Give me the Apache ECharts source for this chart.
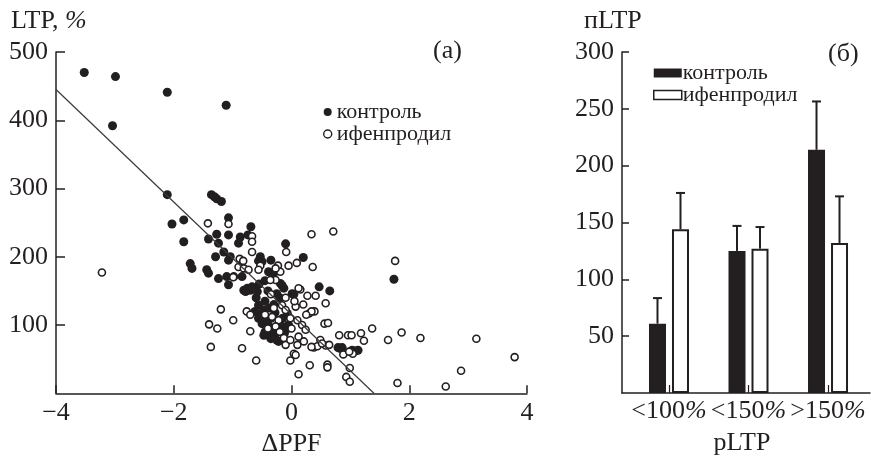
<!DOCTYPE html>
<html>
<head>
<meta charset="utf-8">
<script src="https://cdn.jsdelivr.net/npm/echarts@6/dist/echarts.min.js"></script>
<style>
html,body{margin:0;padding:0;background:#fff;}
#chart{width:871px;height:456px;}
</style>
</head>
<body>
<div id="chart"></div>
<script>
// ---- Panel (а): LTP vs ΔPPF ----
const controlPoints = [
  [-3.52,470],[-2.99,464],[-3.04,392],[-2.11,441],[-1.11,422],
  [-2.11,291],[-1.36,291],[-1.31,288],[-1.27,285],[-1.19,281],
  [-1.07,257],[-2.03,248],[-1.83,254],[-1.83,222],
  [-1.41,226],[-1.27,233],[-1.24,220],[-1.07,232],[-0.87,229],[-0.9,220],[-0.74,232],[-0.69,244],
  [-1.72,190],[-1.69,183],[-1.44,181],[-1.41,176],[-1.29,200],[-1.15,207],[-1.07,195],[-1.04,200],
  [-1.24,168],[-1.07,159],[-1.1,171],[-0.98,171],[-0.84,171],[-0.81,151],[-0.78,149],[-0.7,151],
  [-0.53,200],[-0.56,194],[-0.35,195],[-0.5,193],[-0.39,178],[-0.1,219],[0.2,199],
  [-0.75,154],[-0.67,156],[-0.58,149],[-0.19,161],[-0.13,154],[-0.16,158],[0.01,146],[0.04,145],
  [0.47,156],[0.65,150],[-0.3,176],
  [-0.56,129],[-0.47,122],[-0.56,110],[-0.5,102],[-0.47,85],[-0.39,85],[-0.3,83],[-0.22,76],
  [-0.07,117],[-0.16,98],[-0.07,95],
  [-0.45,90],[-0.35,80],[-0.25,78],[-0.4,100],[-0.6,140],[-0.45,135],[-0.3,130],[-0.2,140],[-0.35,110],
  [-0.55,160],[-0.4,150],[-0.25,146],[-0.45,165],[-0.5,117],[-0.38,125],[-0.28,118],[-0.2,102],
  [-0.12,88],[-0.32,93],[-0.15,110],[-0.05,100],[-0.62,120],[-0.42,108],
  [0.79,67],[0.86,67],[0.82,66],[1.03,63],[1.13,63],[1.08,62],
  [1.74,167]
];
const ifenprodilPoints = [
  [-3.22,177],[-1.42,249],[-1.07,248],[-0.67,230],[-0.67,222],[-0.67,207],[-0.09,207],[0.34,233],[0.71,237],
  [-0.88,197],[-0.82,194],[-0.9,185],[-0.81,183],[-0.73,181],[-0.99,170],
  [-0.53,187],[-0.23,187],[-0.19,178],[-0.05,187],[0.09,191],[0.36,185],[-0.27,183],
  [-0.56,181],[-0.27,166],[-0.36,166],
  [0.15,152],[0.27,143],[0.41,143],[0.12,154],
  [1.76,194],
  [0.58,132],[0.3,117],[0.39,120],[0.56,102],[0.62,103],[1.37,95],[1.18,88],[1.23,77],
  [0.81,85],[0.96,85],[1.02,85],[1.64,78],[1.87,89],[2.19,81],[3.14,80],[3.79,53],[2.88,33],[2.62,10],[1.8,15],
  [0.88,57],[1.04,58],[0.99,37],[0.93,24],[0.99,17],[0.61,42],[0.61,38],[0.31,41],[0.49,78],[0.58,70],
  [0.38,67],[0.44,69],[0.64,71],[0.34,68],
  [-1.2,123],[-1.4,101],[-1.26,95],[-0.99,107],[-1.37,68],[-0.84,66],[-0.6,48],[-0.7,91],[-0.76,120],[-0.7,115],
  [-0.02,48],[0.12,28],[0.04,58],[0.07,56],
  [0.07,127],[-0.3,125],[-0.16,129],[-0.1,122],[-0.33,112],[-0.22,107],[-0.02,110],[0.1,107],[-0.27,98],
  [0.18,100],[0.24,93],[0.34,120],
  [-0.1,71],[-0.13,81],[-0.02,78],[0.12,83],[0.21,76],[0.1,71],[0.52,73],[0.98,61],
  [-0.45,115],[-0.4,95],[-0.2,90],[0.0,95],[-0.1,140],[0.05,135],[0.2,130],[-0.35,145],[0.25,115]
];
const fitLineX = [-4, 1.4];
const fitLineY = [445, 0];

// ---- Panel (б): пLTP by pLTP group ----
const groups = ['<100%', '<150%', '>150%'];
const groupPos = [1, 2, 3];
const controlMean = [61, 125, 214];
const controlSem  = [22.5, 22, 42.5];
const ifenMean    = [144, 127, 132];
const ifenSem     = [32, 19, 41];

const FONT = '"Liberation Serif","Times New Roman",serif';
const INK = '#231f20';
const AX_FS = 26;
const LG_FS = 22;
const BAR_W = 17, BAR_GAP = 6;
const HALF = (BAR_W + BAR_GAP) / 2;
const italicRich = { i: { fontStyle: 'italic', fontFamily: FONT, fontSize: AX_FS, color: INK } };

const chart = echarts.init(document.getElementById('chart'));

function errSeries(name, mean, sem, offset) {
  return {
    type: 'custom', name: name, xAxisIndex: 1, yAxisIndex: 1, z: 5,
    data: groupPos.map((p, i) => [p, mean[i], mean[i] + sem[i]]),
    encode: { x: 0, y: [1, 2] },
    renderItem: function (params, api) {
      const a = api.coord([api.value(0), api.value(1)]);
      const b = api.coord([api.value(0), api.value(2)]);
      const cx = a[0] + offset;
      const st = { stroke: INK, lineWidth: 2 };
      return { type: 'group', children: [
        { type: 'line', shape: { x1: cx, y1: a[1], x2: cx, y2: b[1] }, style: st },
        { type: 'line', shape: { x1: cx - 4.5, y1: b[1], x2: cx + 4.5, y2: b[1] }, style: st }
      ]};
    }
  };
}

const option = {
  animation: false,
  backgroundColor: '#fff',
  textStyle: { fontFamily: FONT, color: INK },
  grid: [
    { left: 56, top: 52, width: 471, height: 341.3, outerBoundsMode: 'none', containLabel: false },
    { left: 622, top: 52, width: 248, height: 341, outerBoundsMode: 'none', containLabel: false }
  ],
  xAxis: [
    {
      gridIndex: 0, type: 'value', min: -4, max: 4, interval: 2,
      name: 'ΔPPF', nameLocation: 'middle', nameGap: 33,
      nameTextStyle: { fontFamily: FONT, fontSize: AX_FS, color: INK },
      axisLine: { onZero: false, lineStyle: { color: INK, width: 1.5 } },
      axisTick: { inside: true, length: 8, lineStyle: { color: INK, width: 1.5 } },
      axisLabel: { margin: 7, fontFamily: FONT, fontSize: AX_FS, color: INK,
        formatter: v => (v < 0 ? '\u2212' + Math.abs(v) : String(v)) },
      splitLine: { show: false }
    },
    {
      gridIndex: 1, type: 'value', min: 0.409, max: 3.528,
      name: 'pLTP', nameLocation: 'middle', nameGap: 37,
      nameTextStyle: { fontFamily: FONT, fontSize: AX_FS, color: INK, padding: [0, 8, 0, 0] },
      axisLine: { onZero: false, lineStyle: { color: INK, width: 1.5 } },
      axisTick: { inside: true, length: 8, customValues: groupPos, lineStyle: { color: INK, width: 1.2 } },
      axisLabel: { margin: 5, fontFamily: FONT, fontSize: AX_FS, color: INK, customValues: groupPos,
        rich: italicRich,
        formatter: v => {
          const g = groups[Math.round(v) - 1] || '';
          return g.replace('%', '{i|%}');
        } },
      splitLine: { show: false }
    }
  ],
  yAxis: [
    {
      gridIndex: 0, type: 'value', min: 0, max: 500, interval: 100,
      axisLine: { show: true, onZero: false, lineStyle: { color: INK, width: 1.5 } },
      axisTick: { show: true, inside: true, length: 9, lineStyle: { color: INK, width: 1.5 } },
      axisLabel: { margin: 8, fontFamily: FONT, fontSize: AX_FS, color: INK, showMinLabel: false },
      splitLine: { show: false }
    },
    {
      gridIndex: 1, type: 'value', min: 0, max: 300, interval: 50,
      axisLine: { show: true, onZero: false, lineStyle: { color: INK, width: 1.5 } },
      axisTick: { show: true, inside: true, length: 7, lineStyle: { color: INK, width: 1.5 } },
      axisLabel: { margin: 8, fontFamily: FONT, fontSize: AX_FS, color: INK, showMinLabel: false },
      splitLine: { show: false }
    }
  ],
  legend: [
    {
      left: 318, top: 96, orient: 'vertical', selectedMode: false,
      itemWidth: 8, itemHeight: 8, itemGap: 0,
      textStyle: { fontFamily: FONT, fontSize: LG_FS, color: INK, lineHeight: 18 },
      data: [
        { name: 'контроль', icon: 'circle', itemStyle: { color: INK, borderWidth: 0 } },
        { name: 'ифенпродил', icon: 'circle', itemStyle: { color: '#fff', borderColor: INK, borderWidth: 1.4 } }
      ]
    },
    {
      left: 648, top: 57, orient: 'vertical', selectedMode: false,
      itemWidth: 28, itemHeight: 9, itemGap: 0,
      textStyle: { fontFamily: FONT, fontSize: LG_FS, color: INK, lineHeight: 17, padding: [0, 0, 0, -4] },
      data: [
        { name: 'контроль', icon: 'rect', itemStyle: { color: INK, borderWidth: 0 } },
        { name: 'ифенпродил', icon: 'rect', itemStyle: { color: '#fff', borderColor: INK, borderWidth: 1.5 } }
      ]
    }
  ],
  graphic: [
    { type: 'text', left: 11, top: 8, style: { text: 'LTP, {i|%}', font: AX_FS + 'px ' + FONT, fill: INK, rich: italicRich } },
    { type: 'text', left: 433, top: 38, style: { text: '(а)', font: AX_FS + 'px ' + FONT, fill: INK } },
    { type: 'text', left: 584, top: 8, style: { text: 'пLTP', font: AX_FS + 'px ' + FONT, fill: INK } },
    { type: 'text', left: 828, top: 41, style: { text: '(б)', font: AX_FS + 'px ' + FONT, fill: INK } }
  ],
  series: [
    {
      type: 'scatter', name: 'контроль', xAxisIndex: 0, yAxisIndex: 0,
      symbol: 'circle', symbolSize: 9, z: 2,
      itemStyle: { color: INK, opacity: 1 },
      data: controlPoints
    },
    {
      type: 'scatter', name: 'ифенпродил', xAxisIndex: 0, yAxisIndex: 0,
      symbol: 'circle', symbolSize: 7, z: 3,
      itemStyle: { color: '#fff', borderColor: INK, borderWidth: 1.6, opacity: 1 },
      data: ifenprodilPoints
    },
    {
      type: 'line', name: 'fit', xAxisIndex: 0, yAxisIndex: 0, z: 4,
      symbol: 'none', silent: true,
      lineStyle: { color: '#3a3a3a', width: 1.2 },
      data: fitLineX.map((x, i) => [x, fitLineY[i]])
    },
    {
      type: 'bar', name: 'контроль', xAxisIndex: 1, yAxisIndex: 1,
      barWidth: BAR_W, barGap: (BAR_GAP / BAR_W * 100) + '%',
      itemStyle: { color: INK },
      data: groupPos.map((p, i) => [p, controlMean[i]])
    },
    {
      type: 'bar', name: 'ифенпродил', xAxisIndex: 1, yAxisIndex: 1,
      barWidth: BAR_W, barGap: (BAR_GAP / BAR_W * 100) + '%',
      itemStyle: { color: '#fff', borderColor: INK, borderWidth: 2 },
      data: groupPos.map((p, i) => [p, ifenMean[i]])
    },
    errSeries('контроль SEM', controlMean, controlSem, -HALF),
    errSeries('ифенпродил SEM', ifenMean, ifenSem, HALF)
  ]
};

chart.setOption(option);
</script>
</body>
</html>
